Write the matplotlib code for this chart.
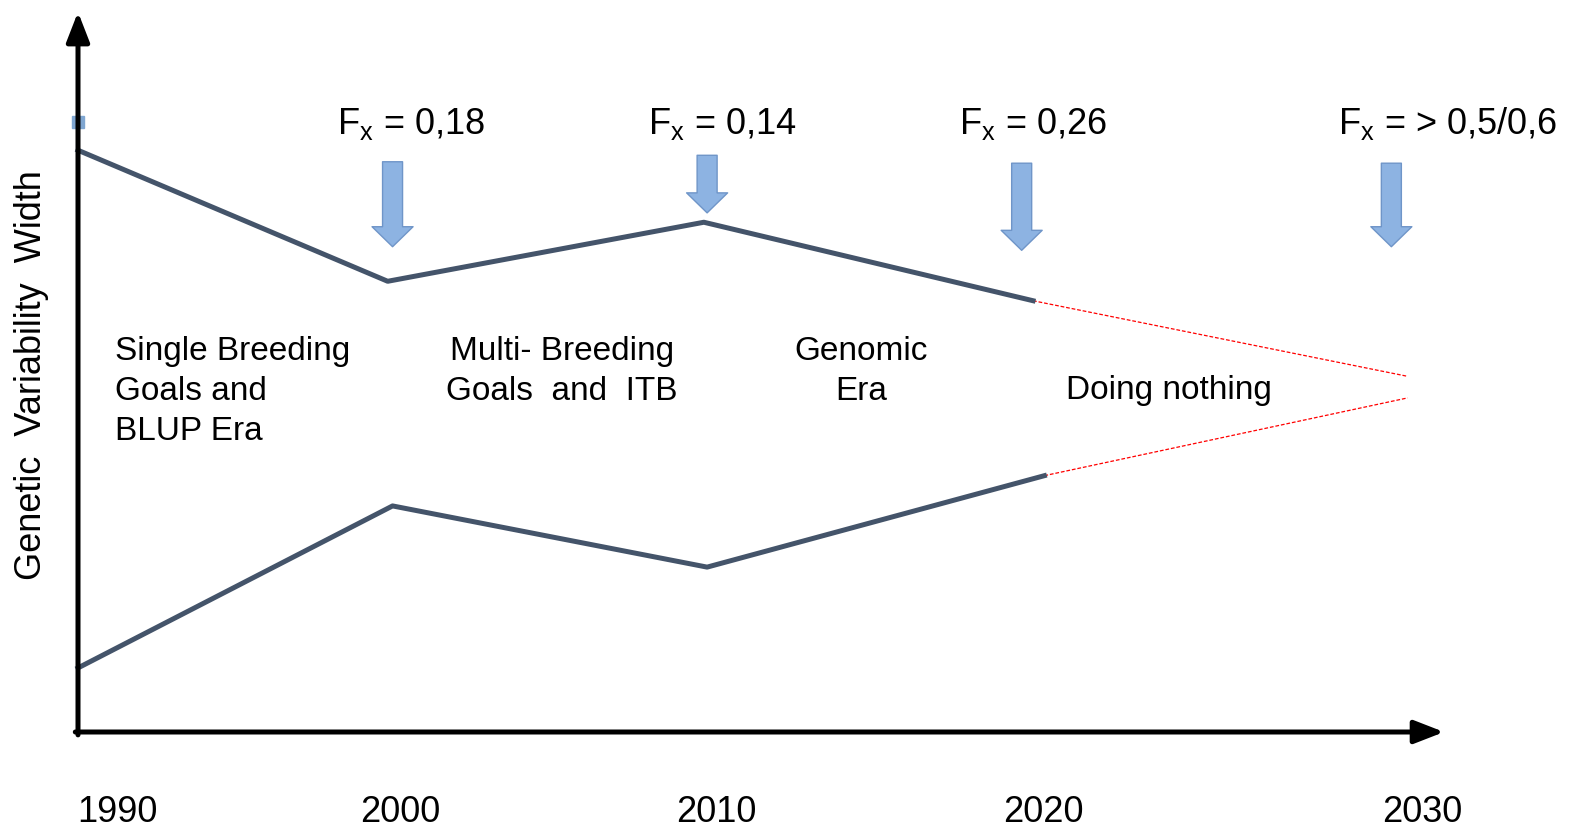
import matplotlib
matplotlib.use("Agg")
import matplotlib.pyplot as plt

plt.rcParams['font.family'] = ['Liberation Sans', 'DejaVu Sans']
plt.rcParams['mathtext.fontset'] = 'custom'
plt.rcParams['mathtext.rm'] = 'Liberation Sans'
plt.rcParams['mathtext.it'] = 'Liberation Sans'

# --- datos (esquema: años vs. ancho de variabilidad genética) ---
upper_x = [1990.0, 1999.55, 2009.3, 2019.45]
upper_y = [80.8, 62.6, 70.8, 59.9]
lower_x = [1990.0, 1999.7, 2009.4, 2019.8]
lower_y = [8.9, 31.4, 22.9, 35.6]
# proyección "doing nothing"
proj_x_end = 2031.0
proj_upper_end = 49.4
proj_lower_end = 46.4

year_labels = ['1990', '2000', '2010', '2020', '2030']
year_pos = [1991.23, 1999.93, 2009.67, 2019.76, 2031.44]

fx_labels = ['0,18', '0,14', '0,26', '> 0,5/0,6']
fx_x = [2000.27, 2009.86, 2019.45, 2032.25]
arrow_x = [1999.7, 2009.4, 2019.1, 2030.5]
arrow_top = [79.2, 80.1, 79.0, 79.0]
arrow_tip = [67.4, 72.1, 66.9, 67.4]

eras = ['Single Breeding\nGoals and\nBLUP Era', 'Multi- Breeding\nGoals  and  ITB',
        'Genomic\nEra', 'Doing nothing']
era_x = [1991.14, 2004.92, 2014.14, 2023.64]
era_y = [47.3, 50.1, 50.07, 47.5]
era_ha = ['left', 'center', 'center', 'center']

line_col = '#44546a'
arrow_fc = '#8db3e2'
arrow_ec = '#6f95c8'

fig = plt.figure(figsize=(15.7, 8.34), dpi=100)
ax = fig.add_axes([78 / 1570, 102 / 834, 1362 / 1570, 720 / 834])
ax.set_xlim(1990, 2032)
ax.set_ylim(0, 100)
ax.set_axis_off()

# ejes con flecha
ax.plot([1990], [84.7], marker='s', ms=8, color='#7fa6d1', clip_on=False, zorder=1)
ax.annotate('', xy=(1.003, 0), xytext=(-0.002, 0), xycoords='axes fraction',
            arrowprops=dict(arrowstyle='-|>,head_length=0.9,head_width=0.35', lw=3.6,
                            color='black', shrinkA=0, shrinkB=0, mutation_scale=20), zorder=5)
ax.annotate('', xy=(0, 1.0), xytext=(0, -0.004), xycoords='axes fraction',
            arrowprops=dict(arrowstyle='-|>,head_length=0.9,head_width=0.35', lw=3.6,
                            color='black', shrinkA=0, shrinkB=0, mutation_scale=20), zorder=5)

# líneas
ax.plot(upper_x, upper_y, color=line_col, lw=3.6, clip_on=False, zorder=3)
ax.plot(lower_x, lower_y, color=line_col, lw=3.6, clip_on=False, zorder=3)
ax.plot([upper_x[-1], proj_x_end], [upper_y[-1], proj_upper_end], color='red',
        lw=0.9, ls=(0, (3, 1.5)), clip_on=False, zorder=2)
ax.plot([lower_x[-1], proj_x_end], [lower_y[-1], proj_lower_end], color='red',
        lw=0.9, ls=(0, (3, 1.5)), clip_on=False, zorder=2)

# flechas azules y F_x
for xa, top, tip, fx, lab in zip(arrow_x, arrow_top, arrow_tip, fx_x, fx_labels):
    ax.annotate('', xy=(xa, tip), xytext=(xa, top),
                arrowprops=dict(arrowstyle='simple,head_length=1.0,head_width=2.05,tail_width=1.0',
                                fc=arrow_fc, ec=arrow_ec, lw=1, shrinkA=0, shrinkB=0,
                                mutation_scale=14.4), annotation_clip=False)
    ax.text(fx, 84.5, r'$\mathregular{F_x}$ = ' + lab, ha='center', va='center',
            fontsize=26, clip_on=False)

for t, x, y, ha in zip(eras, era_x, era_y, era_ha):
    ax.text(x, y, t, ha=ha, va='center', fontsize=24, linespacing=1.38,
            multialignment='center' if ha == 'center' else 'left')

xt = ax.get_xaxis_transform()
for lab, x in zip(year_labels, year_pos):
    ax.text(x, -0.112, lab, ha='center', va='center', fontsize=26, transform=xt, clip_on=False)

yt = ax.get_yaxis_transform()
ax.text(-0.0338, 49.6, 'Genetic  Variability  Width', rotation=90, ha='center', va='center',
        fontsize=26, transform=yt, clip_on=False)

fig.savefig('out.png', dpi=100)
